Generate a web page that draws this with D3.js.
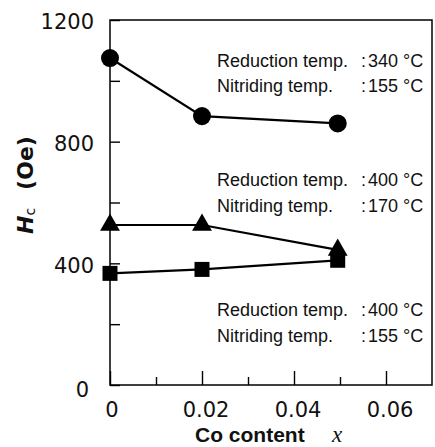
<!doctype html>
<html lang="en">
<head>
<meta charset="UTF-8">
<title>Hc vs Co content</title>
<script src="https://cdn.jsdelivr.net/npm/d3@7"></script>
<style>
    body { margin: 0; background: #fff; }
    .tick text { font-family: "DejaVu Sans", sans-serif; font-size: 21px; fill: #111; }
    .tick line { stroke: #000; stroke-width: 1.4; }
    .note { font-family: "Liberation Sans", Arial, sans-serif; font-size: 18px; fill: #111; }
</style>
</head>
<body>
<div id="chartDiv"></div>
<script>
// data
const coContent = [0, 0.02, 0.0495];
const hcRed340Nit155 = [1075, 884, 860];   // circles
const hcRed400Nit170 = [526, 526, 444];    // triangles
const hcRed400Nit155 = [367, 380, 410];    // squares

const yMajor = [0, 400, 800, 1200];
const yMinor = [200, 600, 1000];
const xMajor = [0, 0.02, 0.04, 0.06];
const xMinor = [0.01, 0.03, 0.05];

const reductionTemps = ["340", "400", "400"];
const nitridingTemps = ["155", "170", "155"];

const svgWidth = 435, svgHeight = 447;
const plotLeft = 110, plotRight = 432, plotTop = 20, plotBottom = 385;

const svg = d3.select('#chartDiv').append('svg')
    .attr('width', svgWidth)
    .attr('height', svgHeight);

const x = d3.scaleLinear().domain([0, 0.07]).range([plotLeft, plotRight]);
const y = d3.scaleLinear().domain([0, 1200]).range([plotBottom, plotTop]);

// y axis, ticks pointing inward
const yAxis = svg.append('g')
    .attr('transform', `translate(${plotLeft},0)`)
    .call(d3.axisLeft(y).tickValues(yMajor.concat(yMinor)).tickSize(-10).tickPadding(16)
        .tickFormat(d => yMajor.includes(d) ? d : ''));
yAxis.select('.domain').remove();
yAxis.selectAll('.tick text').attr('dy', '0.42em');
yAxis.selectAll('.tick').filter(d => d === 0).select('text')
    .attr('x', -21).attr('dy', '0.55em');

// x axis, major + minor ticks inward
const xAxis = svg.append('g')
    .attr('transform', `translate(0,${plotBottom})`)
    .call(d3.axisBottom(x).tickValues(xMajor).tickSize(-14).tickPadding(17)
        .tickFormat(d => d === 0 ? '0' : d3.format('.2f')(d)));
xAxis.select('.domain').remove();
xAxis.selectAll('.tick text').attr('dx', d => d === 0 ? 1.5 : 3.5);

const xAxisMinor = svg.append('g')
    .attr('transform', `translate(0,${plotBottom})`)
    .call(d3.axisBottom(x).tickValues(xMinor).tickSize(-8).tickFormat(''));
xAxisMinor.select('.domain').remove();

// frame
svg.append('rect')
    .attr('x', plotLeft).attr('y', plotTop)
    .attr('width', plotRight - plotLeft).attr('height', plotBottom - plotTop)
    .attr('fill', 'none').attr('stroke', '#000').attr('stroke-width', 1.5);

// series
const line = d3.line().x(d => x(d[0])).y(d => y(d[1]));
const series = [
    {vals: hcRed400Nit155, sym: d3.symbolSquare, size: 225},
    {vals: hcRed400Nit170, sym: d3.symbolTriangle, size: 170},
    {vals: hcRed340Nit155, sym: d3.symbolCircle, size: 255}
];
series.forEach(s => {
    const pts = coContent.map((c, i) => [c, s.vals[i]]);
    svg.append('path')
        .datum(pts)
        .attr('d', line)
        .attr('fill', 'none')
        .attr('stroke', '#000')
        .attr('stroke-width', 2.2);
    svg.selectAll(null)
        .data(pts)
        .enter().append('path')
        .attr('transform', d => `translate(${x(d[0])},${y(d[1])})`)
        .attr('d', d3.symbol().type(s.sym).size(s.size))
        .attr('fill', '#000');
});

// condition notes
function noteLine(g, ny, label, temp) {
    g.append('text').attr('class', 'note').attr('x', 217).attr('y', ny).text(label);
    g.append('text').attr('class', 'note').attr('x', 361).attr('y', ny).text(':');
    g.append('text').attr('class', 'note').attr('x', 368).attr('y', ny).text(temp);
    g.append('text').attr('class', 'note').attr('x', 403).attr('y', ny).text('\u00B0C');
}
const noteY = [66.5, 186, 316];
noteY.forEach((ny, i) => {
    const g = svg.append('g');
    noteLine(g, ny, 'Reduction temp.', reductionTemps[i]);
    noteLine(g, ny + 25.5, 'Nitriding temp.', nitridingTemps[i]);
});

// axis titles
const xt = svg.append('text')
    .attr('x', 195).attr('y', 442)
    .style('font-family', '"Liberation Sans", Arial, sans-serif')
    .style('font-size', '21px').style('font-weight', 'bold').attr('fill', '#111');
xt.append('tspan').text('Co content');
xt.append('tspan')
    .attr('x', 332)
    .style('font-family', '"Liberation Serif", "DejaVu Serif", serif')
    .style('font-style', 'italic').style('font-weight', 'normal').style('font-size', '23px')
    .text('x');

const yt = svg.append('text')
    .attr('transform', 'translate(33,234) rotate(-90)')
    .style('font-family', '"DejaVu Sans", sans-serif')
    .style('font-size', '22px').style('font-weight', 'bold').attr('fill', '#111');
yt.append('tspan').style('font-style', 'italic').text('H');
yt.append('tspan').attr('dy', 2).style('font-size', '14px').style('font-weight', 'normal').text('c');
yt.append('tspan').attr('dy', -2).attr('dx', 18).text('(Oe)');
</script>
</body>
</html>
